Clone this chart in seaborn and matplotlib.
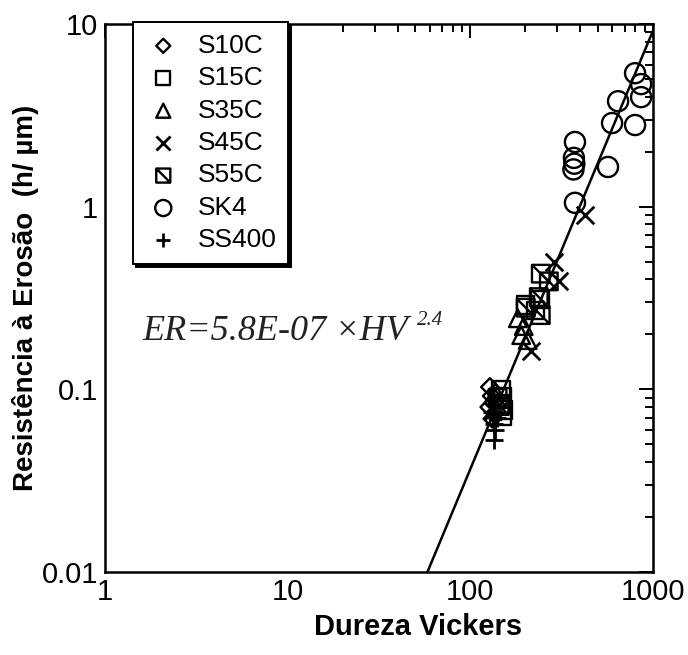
import numpy as np
import pandas as pd
import matplotlib
matplotlib.use("Agg")
import matplotlib.pyplot as plt
from matplotlib.path import Path
from matplotlib.ticker import FixedLocator, FixedFormatter, LogLocator, NullFormatter
import seaborn as sns

# Vickers hardness (HV) and erosion resistance (h/um) for each steel grade
s10c_hv = [128, 131, 134, 127, 136, 132]
s10c_er = [0.103, 0.092, 0.085, 0.080, 0.074, 0.069]

s15c_hv = [147, 150, 146, 151, 149, 201, 228, 240]
s15c_er = [0.100, 0.091, 0.083, 0.077, 0.071, 0.290, 0.270, 0.310]

s35c_hv = [182, 190, 206, 196, 137]
s35c_er = [0.245, 0.198, 0.186, 0.222, 0.097]

s45c_hv = [215, 287, 305, 424, 133]
s45c_er = [0.162, 0.500, 0.390, 0.900, 0.076]

s55c_hv = [243, 269, 237, 201, 243, 141, 145]
s55c_er = [0.430, 0.390, 0.320, 0.280, 0.255, 0.090, 0.081]

sk4_hv = [798, 861, 861, 644, 597, 798, 374, 369, 371, 367, 567, 374]
sk4_er = [5.38, 4.69, 3.98, 3.78, 2.87, 2.80, 2.26, 1.85, 1.72, 1.60, 1.65, 1.05]

ss400_hv = [134, 137, 135, 140, 131]
ss400_er = [0.065, 0.060, 0.053, 0.070, 0.075]

# Power-law fit ER = A * HV^n
fit_a = 5.8e-07
fit_n = 2.4

x_ticks = [1, 10, 100, 1000]
x_tick_labels = ["1", "10", "100", "1000"]
y_ticks = [0.01, 0.1, 1, 10]
y_tick_labels = ["0.01", "0.1", "1", "10"]

sns.set_style("white")
plt.rcParams["font.family"] = ["Liberation Sans", "DejaVu Sans"]
plt.rcParams["text.color"] = "black"
plt.rcParams["axes.labelcolor"] = "black"

fig = plt.figure(figsize=(6.88, 6.55), dpi=100)
ax = fig.add_axes([0.1526, 0.1267, 0.7965, 0.8366])

# square with a diagonal stroke for S55C
sq_diag = Path(
    [(-1, 1), (1, 1), (1, -1), (-1, -1), (-1, 1), (-1, 1), (1, -1)],
    [Path.MOVETO, Path.LINETO, Path.LINETO, Path.LINETO, Path.CLOSEPOLY,
     Path.MOVETO, Path.LINETO],
)

series = [
    ("S10C", s10c_hv, s10c_er, "D", 80, True),
    ("S15C", s15c_hv, s15c_er, "s", 160, True),
    ("S35C", s35c_hv, s35c_er, "^", 160, True),
    ("S45C", s45c_hv, s45c_er, "x", 160, False),
    ("S55C", s55c_hv, s55c_er, sq_diag, 160, True),
    ("SK4", sk4_hv, sk4_er, "o", 210, True),
    ("SS400", ss400_hv, ss400_er, "+", 180, False),
]

for name, hv, er, mk, size, open_marker in series:
    df = pd.DataFrame({"hv": hv, "er": er})
    if open_marker:
        sns.scatterplot(data=df, x="hv", y="er", marker=mk, s=size,
                        color="black", facecolor="none", edgecolor="black",
                        linewidth=1.7, label=name, ax=ax, zorder=3)
    else:
        sns.scatterplot(data=df, x="hv", y="er", marker=mk, s=size,
                        color="black", linewidth=2.0, label=name, ax=ax,
                        zorder=3)

# fitted line
hv_line = np.logspace(np.log10(40), 3, 200)
fit_df = pd.DataFrame({"hv": hv_line, "er": fit_a * hv_line ** fit_n})
sns.lineplot(data=fit_df, x="hv", y="er", color="black", linewidth=1.8,
             ax=ax, legend=False, zorder=2)

ax.set_xscale("log")
ax.set_yscale("log")
ax.set_xlim(1, 1000)
ax.set_ylim(0.01, 10)

ax.xaxis.set_major_locator(FixedLocator(x_ticks))
ax.xaxis.set_major_formatter(FixedFormatter(x_tick_labels))
ax.yaxis.set_major_locator(FixedLocator(y_ticks))
ax.yaxis.set_major_formatter(FixedFormatter(y_tick_labels))
ax.xaxis.set_minor_locator(LogLocator(base=10, subs=np.arange(2, 10)))
ax.yaxis.set_minor_locator(LogLocator(base=10, subs=np.arange(2, 10)))
ax.xaxis.set_minor_formatter(NullFormatter())
ax.yaxis.set_minor_formatter(NullFormatter())

ax.tick_params(which="both", direction="in", top=True, right=True,
               colors="black", width=1.4)
ax.tick_params(which="major", length=10, labelsize=21)
ax.tick_params(which="minor", length=6)
ax.tick_params(axis="x", which="major", pad=4)
ax.tick_params(axis="y", which="major", pad=5)

for sp in ax.spines.values():
    sp.set_color("black")
    sp.set_linewidth(1.8)

ax.set_xlabel("Dureza Vickers", fontsize=21, fontweight="bold",
              labelpad=5, x=0.571)
ax.set_ylabel("Resistência à Erosão  (h/ µm)", fontsize=20,
              fontweight="bold", labelpad=2)

leg = ax.legend(loc="upper left", bbox_to_anchor=(0.051, 1.004),
                borderaxespad=0, frameon=True, fancybox=False,
                shadow={"color": "black", "alpha": 1.0},
                fontsize=19, labelspacing=0.32, handletextpad=0.6,
                handlelength=1.4, borderpad=0.45, markerscale=0.8)
leg.get_frame().set_edgecolor("black")
leg.get_frame().set_linewidth(1.4)
leg.get_frame().set_alpha(1.0)
for t in leg.get_texts():
    t.set_color("black")

eq = ax.text(0.069, 0.423, "ER=5.8E-07 ×HV", transform=ax.transAxes,
             fontsize=26, fontstyle="italic", family="Liberation Serif",
             color="#222222", ha="left", va="baseline")
ax.annotate("2.4", xy=(1, 1), xycoords=eq, xytext=(6, 3),
            textcoords="offset points", fontsize=15, fontstyle="italic",
            family="Liberation Serif", color="#222222",
            ha="left", va="top")

fig.savefig("out.png", dpi=100)
